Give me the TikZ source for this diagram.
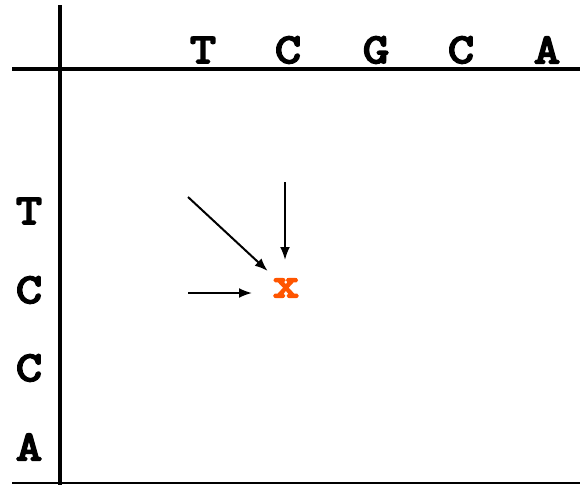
\documentclass[tikz,border=0pt]{standalone}
\usepackage{fontspec}
\newfontfamily\seqfont{Latin Modern Mono}[FakeBold=5, FakeStretch=1.2]
\usetikzlibrary{arrows.meta}
\definecolor{cellred}{RGB}{255,85,0}

\begin{document}
\begin{tikzpicture}[x=1pt, y=-1pt, >={Latex[length=13pt,width=10pt]},
    base/.style={font=\seqfont\fontsize{42}{42}\selectfont, inner sep=0pt},
    link/.style={->, line width=2pt}]
    \useasboundingbox (0,0) rectangle (580,485);
    % grid lines
    \draw[line width=4pt] (60,5) -- (60,485);
    \draw[line width=4.5pt] (12,69) -- (580,69);
    \draw[line width=2pt] (12,483) -- (580,483);
    % top sequence
    \node[base] (t1) at (203,50) {T};
    \node[base] (t2) at (288,50) {C};
    \node[base] (t3) at (376,50) {G};
    \node[base] (t4) at (461,50) {C};
    \node[base] (t5) at (547,50) {A};
    % left sequence
    \node[base] (s1) at (29,211) {T};
    \node[base] (s2) at (29,290) {C};
    \node[base] (s3) at (29,368) {C};
    \node[base] (s4) at (29,447) {A};
    % current cell
    \node[base, text=cellred] (cell) at (286,288) {x};
    \coordinate (diag) at (188,197);
    \coordinate (up) at (285,182);
    \coordinate (left) at (188,293);
    \draw[link, shorten >=25pt] (diag) -- (cell.center);
    \draw[link, shorten >=28pt] (up) -- (up |- cell.center);
    \draw[link, shorten >=34pt] (left) -- (left -| cell.center);
\end{tikzpicture}
\end{document}
